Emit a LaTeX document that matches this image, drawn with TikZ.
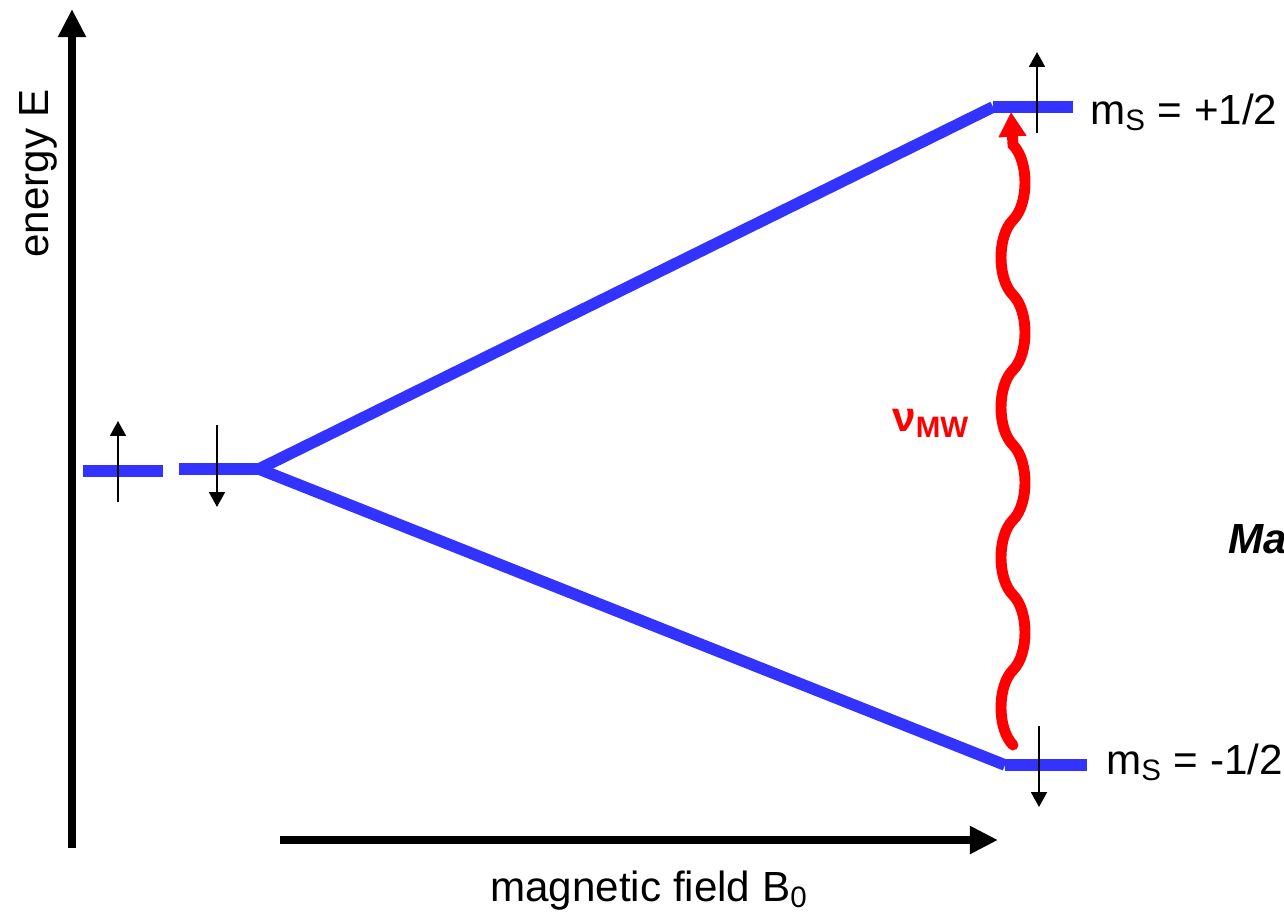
\documentclass[tikz,border=0pt]{standalone}
\usepackage{fontspec}
\setmainfont{Liberation Sans}
\usetikzlibrary{arrows.meta}
\definecolor{LevelClr}{rgb}{0.2,0.2,1}
\definecolor{WaveClr}{rgb}{1,0,0}

\tikzset{
  lbl/.style={inner sep=0pt,font=\fontsize{24}{28}\selectfont},
  axis/.style={line width=5pt,-{Triangle[length=16pt,width=15pt]}},
  level/.style={line width=6.6pt,color=LevelClr},
  spin/.style={line width=1.3pt,-{Triangle[length=8.5pt,width=9pt]}},
  mwwave/.style={line width=6.2pt,color=WaveClr,line cap=round,
    -{Triangle[length=14pt,width=15pt]}}
}

\begin{document}
\begin{tikzpicture}[x=0.02cm,y=-0.02cm]
\useasboundingbox (0,0) rectangle (1284,920);

\coordinate (Eorigin) at (72,848);
\coordinate (Etop) at (72,9);
\coordinate (Borigin) at (280,840);
\coordinate (Bend) at (998,840);

\draw[axis] (Eorigin) -- (Etop);
\draw[axis] (Borigin) -- (Bend);

\coordinate (zeroA) at (83,471);
\coordinate (zeroB) at (163,471);
\coordinate (zeroC) at (179,469);
\coordinate (split) at (259,469);
\coordinate (upL) at (993,107);
\coordinate (upR) at (1073,107);
\coordinate (loL) at (1005,765);
\coordinate (loR) at (1087,765);

\draw[level] (zeroA) -- (zeroB);
\draw[level] (zeroC) -- (split);
\draw[level] (split) -- (upL);
\draw[level] (split) -- (loL);
\draw[level] (upL) -- (upR);
\draw[level] (loL) -- (loR);

\draw[spin] (118,502) -- (118,421);
\draw[spin] (217,425) -- (217,507);
\draw[spin] (1037,133) -- (1037,52);
\draw[spin] (1039,726) -- (1039,807);

\coordinate (mwlow) at (1013,745);
\coordinate (mwtip) at (1011,112);
\draw[mwwave] (mwlow)
  \foreach \i [evaluate=\i as \s using {int(1-2*mod(\i,2))}] in {1,...,8}{
    .. controls +(\s*16,-16) and +(\s*16,16) .. ++(0,-75)
  } -- (mwtip);

\node[lbl,anchor=base west,rotate=90] (Elabel) at (48,258) {energy E};
\node[lbl,anchor=base] (Blabel) at (649,901) {magnetic field B\textsubscript{0}};
\node[lbl,anchor=base west] (msup) at (1090,124) {m\textsubscript{S} = +1/2};
\node[lbl,anchor=base west] (msdown) at (1106,774) {m\textsubscript{S} = -1/2};
\node[lbl,anchor=base west,text=WaveClr] (numw) at (892,431) {\textbf{ν}\textsubscript{\textbf{MW}}};
\node[lbl,anchor=base west] (ma) at (1228,553) {\textbf{\textit{Ma}}};

\end{tikzpicture}
\end{document}
